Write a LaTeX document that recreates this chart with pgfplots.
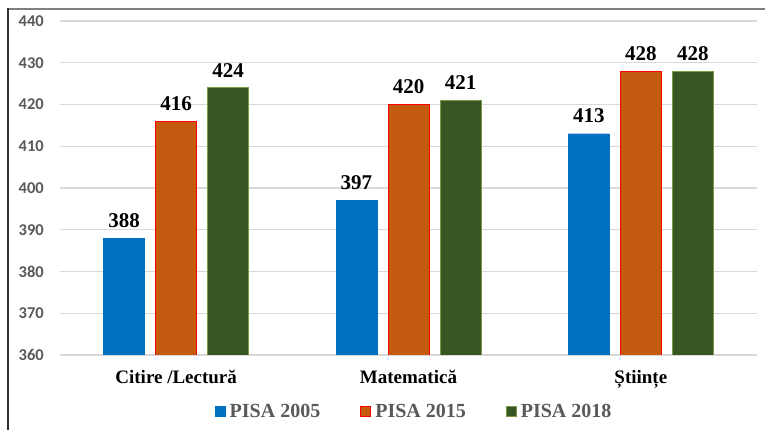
\documentclass[border=0pt]{standalone}
\usepackage{fontspec}
\setmainfont{Liberation Serif}
\newfontfamily\calibri{Carlito}
\usepackage{pgfplots}
\pgfplotsset{compat=1.18}
\definecolor{cblue}{HTML}{0070C0}
\definecolor{corange}{HTML}{C55A11}
\definecolor{cred}{HTML}{FF0000}
\definecolor{cgreen}{HTML}{375623}
\definecolor{cgreenedge}{HTML}{7A9A4A}
\definecolor{tgray}{HTML}{595959}
\definecolor{gridc}{HTML}{D9D9D9}
\begin{document}
\begin{tikzpicture}[x=1pt,y=1pt]
\useasboundingbox (-60,-75) rectangle (705,355);
\draw[color=black!50, line width=1.3pt] (-52,346) -- (705,346);
\draw[color=black!80, line width=1.3pt] (-52,346.65) -- (-52,-75);
\begin{axis}[
  at={(0,0)}, anchor=south west,
  scale only axis, width=697pt, height=334pt,
  ymin=360, ymax=440, ytick={360,370,...,440},
  xmin=-0.5, xmax=2.5, xtick={0,1,2},
  xticklabels={Citire /Lectură, Matematică, Științe},
  ybar, bar width=0.176,
  ymajorgrids, grid style={gridc, line width=1.2pt},
  axis line style={draw=none},
  major tick length=0pt,
  yticklabel style={font=\calibri\fontsize{16.5}{19}\selectfont\bfseries, text=tgray,
    /pgf/number format/assume math mode=true, anchor=east, inner sep=0pt, xshift=-16pt},
  xticklabel style={font=\fontsize{19}{22}\selectfont\bfseries, text=black,
    anchor=base, inner sep=0pt, yshift=-29pt},
  nodes near coords,
  every node near coord/.append style={font=\fontsize{21}{24}\selectfont\bfseries, text=black, yshift=7pt,
    /pgf/number format/assume math mode=true},
  legend columns=3,
  legend style={at={(0.508,-0.168)}, anchor=center, draw=none, fill=none,
    font=\fontsize{20}{24}\selectfont\bfseries, text=tgray,
    /tikz/every even column/.append style={column sep=38pt}},
  legend image code/.code={\draw[#1, line width=1pt] (0pt,-5pt) rectangle (10pt,5pt);},
  legend cell align=left,
]
\addplot[fill=cblue, draw=cblue, bar shift=-0.224] coordinates {(0,388) (1,397) (2,413)};
\addplot[fill=corange, draw=cred, line width=0.8pt, bar shift=0] coordinates {(0,416) (1,420) (2,428)};
\addplot[fill=cgreen, draw=cgreenedge, line width=0.8pt, bar shift=0.224] coordinates {(0,424) (1,421) (2,428)};
\legend{\hspace{2pt}PISA 2005, \hspace{2pt}PISA 2015, \hspace{2pt}PISA 2018}
\end{axis}
\end{tikzpicture}
\end{document}
